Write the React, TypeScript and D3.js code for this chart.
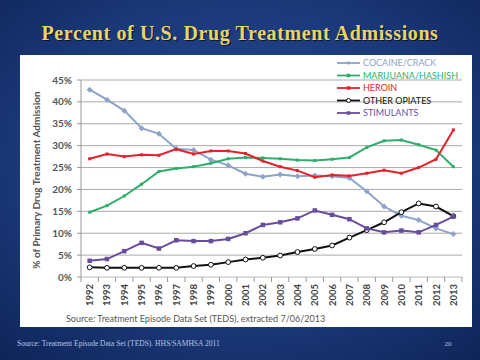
import React from "react";
import * as d3 from "d3";

const years = ["1992","1993","1994","1995","1996","1997","1998","1999","2000","2001","2002","2003","2004","2005","2006","2007","2008","2009","2010","2011","2012","2013"];
const cocaine = [42.8,40.5,38.0,34.0,32.7,29.3,29.0,26.8,25.5,23.6,22.9,23.4,23.0,23.2,23.0,22.6,19.6,16.1,14.0,13.0,11.1,9.8];
const marijuana = [14.8,16.3,18.5,21.2,24.1,24.8,25.2,26.0,27.0,27.3,27.2,27.0,26.7,26.6,26.9,27.3,29.6,31.1,31.3,30.2,29.0,25.2];
const heroin = [27.0,28.1,27.5,27.9,27.8,29.2,28.1,28.8,28.8,28.2,26.5,25.2,24.3,22.8,23.3,23.1,23.7,24.4,23.7,25.0,26.9,33.6];
const otherOpiates = [2.2,2.1,2.1,2.1,2.1,2.1,2.5,2.8,3.4,4.0,4.4,4.9,5.7,6.4,7.2,9.0,10.7,12.5,14.8,16.8,16.1,13.9];
const stimulants = [3.7,4.1,5.9,7.8,6.5,8.4,8.2,8.2,8.7,10.0,11.9,12.5,13.4,15.2,14.2,13.2,11.1,10.2,10.6,10.2,11.9,13.8];
const yTicks = [0,5,10,15,20,25,30,35,40,45];

const series = [
  { name: "COCAINE/CRACK", values: cocaine, color: "#8DA3C8", marker: "diamond", mfill: "#8DA3C8", size: 3 },
  { name: "MARIJUANA/HASHISH", values: marijuana, color: "#2FAE6B", marker: "square", mfill: "#2FAE6B", size: 3 },
  { name: "HEROIN", values: heroin, color: "#E5222B", marker: "square", mfill: "#E5222B", size: 3 },
  { name: "OTHER OPIATES", values: otherOpiates, color: "#111111", marker: "circle", mfill: "#ffffff", size: 2.4 },
  { name: "STIMULANTS", values: stimulants, color: "#6A4C9C", marker: "square", mfill: "#6A4C9C", size: 4.5 },
];

function Marker({ type, x, y, fill, stroke, size }: any) {
  if (type === "circle") return <circle cx={x} cy={y} r={size} fill={fill} stroke={stroke} strokeWidth={1} />;
  if (type === "diamond") return <path d={`M${x},${y - size}L${x + size},${y}L${x},${y + size}L${x - size},${y}Z`} fill={fill} />;
  return <rect x={x - size / 2} y={y - size / 2} width={size} height={size} fill={fill} />;
}

export default function App() {
  const W = 480, H = 360;
  const x = d3.scaleBand().domain(years).range([81, 462]);
  const y = d3.scaleLinear().domain([0, 45]).range([277, 80]);
  const line = d3.line<number>().x((_, i) => x(years[i])! + x.bandwidth() / 2).y(d => y(d));
  const font = "Lato, 'Open Sans', sans-serif";
  const titleProps = { x: 240, y: 40, textAnchor: "middle" as const, fontFamily: "'Liberation Serif', serif", fontWeight: "bold", fontSize: 20, letterSpacing: 0.6 };
  return (
    <svg width={W} height={H} style={{ position: "absolute", left: 0, top: 0 }}>
      <defs>
        <radialGradient id="bg" cx="0.5" cy="0.45" r="0.75">
          <stop offset="0" stopColor="#2a4c94" />
          <stop offset="0.6" stopColor="#1b3878" />
          <stop offset="1" stopColor="#0e2458" />
        </radialGradient>
      </defs>
      <rect width={W} height={H} fill="url(#bg)" />
      <text {...titleProps} fill="#000" opacity={0.6} transform="translate(1.2,1.2)">Percent of U.S. Drug Treatment Admissions</text>
      <text {...titleProps} fill="#E9D466">Percent of U.S. Drug Treatment Admissions</text>
      <rect x={20} y={55} width={452} height={272} fill="#ffffff" />
      {yTicks.map(t => (
        <g key={t}>
          {t > 0 && <line x1={81} x2={462} y1={y(t)} y2={y(t)} stroke="#aaaaaa" strokeWidth={1} />}
          <line x1={77} x2={81} y1={y(t)} y2={y(t)} stroke="#999" />
          <text x={72} y={y(t) + 3.5} textAnchor="end" fontFamily={font} fontWeight="bold" fontSize={10} fill="#555">{t}%</text>
        </g>
      ))}
      <line x1={81} x2={81} y1={80} y2={277} stroke="#999" />
      <line x1={81} x2={462} y1={277} y2={277} stroke="#bbb" />
      {years.map((yr) => (
        <g key={yr}>
          <line x1={x(yr)!} x2={x(yr)!} y1={277} y2={282} stroke="#999" />
          <text transform={`translate(${x(yr)! + x.bandwidth() / 2 + 3.5},284) rotate(-90)`} textAnchor="end" fontFamily={font} fontWeight="bold" fontSize={9.5} fill="#444">{yr}</text>
        </g>
      ))}
      <line x1={462} x2={462} y1={277} y2={282} stroke="#999" />
      <text transform="translate(40,180) rotate(-90)" textAnchor="middle" fontFamily={font} fontWeight="bold" fontSize={10} fill="#555">% of Primary Drug Treatment Admission</text>
      {series.map(s => (
        <g key={s.name}>
          <path d={line(s.values)!} fill="none" stroke={s.color} strokeWidth={2} />
          {s.values.map((v, i) => (
            <Marker key={i} type={s.marker} x={x(years[i])! + x.bandwidth() / 2} y={y(v)} fill={s.mfill} stroke={s.color} size={s.size} />
          ))}
        </g>
      ))}
      {series.map((s, i) => {
        const ly = 63 + i * 12.5;
        return (
          <g key={s.name}>
            <line x1={337} x2={360} y1={ly} y2={ly} stroke={s.color} strokeWidth={1.8} />
            <Marker type={s.marker} x={348.5} y={ly} fill={s.mfill} stroke={s.color} size={s.marker === "square" ? 3.5 : 2} />
            <text x={363} y={ly + 3} fontFamily={font} fontSize={9} fill={s.color}>{s.name}</text>
          </g>
        );
      })}
      <text x={66} y={322} fontFamily={font} fontSize={9} fill="#555">Source: Treatment Episode Data Set (TEDS), extracted 7/06/2013</text>
      <text x={17} y={346} fontFamily="'Liberation Serif', serif" fontSize={7.5} fill="#b9c6e6">Source: Treatment Episode Data Set (TEDS). HHS/SAMHSA 2011</text>
      <text x={448} y={346} textAnchor="middle" fontFamily="'Liberation Serif', serif" fontSize={7} fill="#b9c6e6">20</text>
    </svg>
  );
}
